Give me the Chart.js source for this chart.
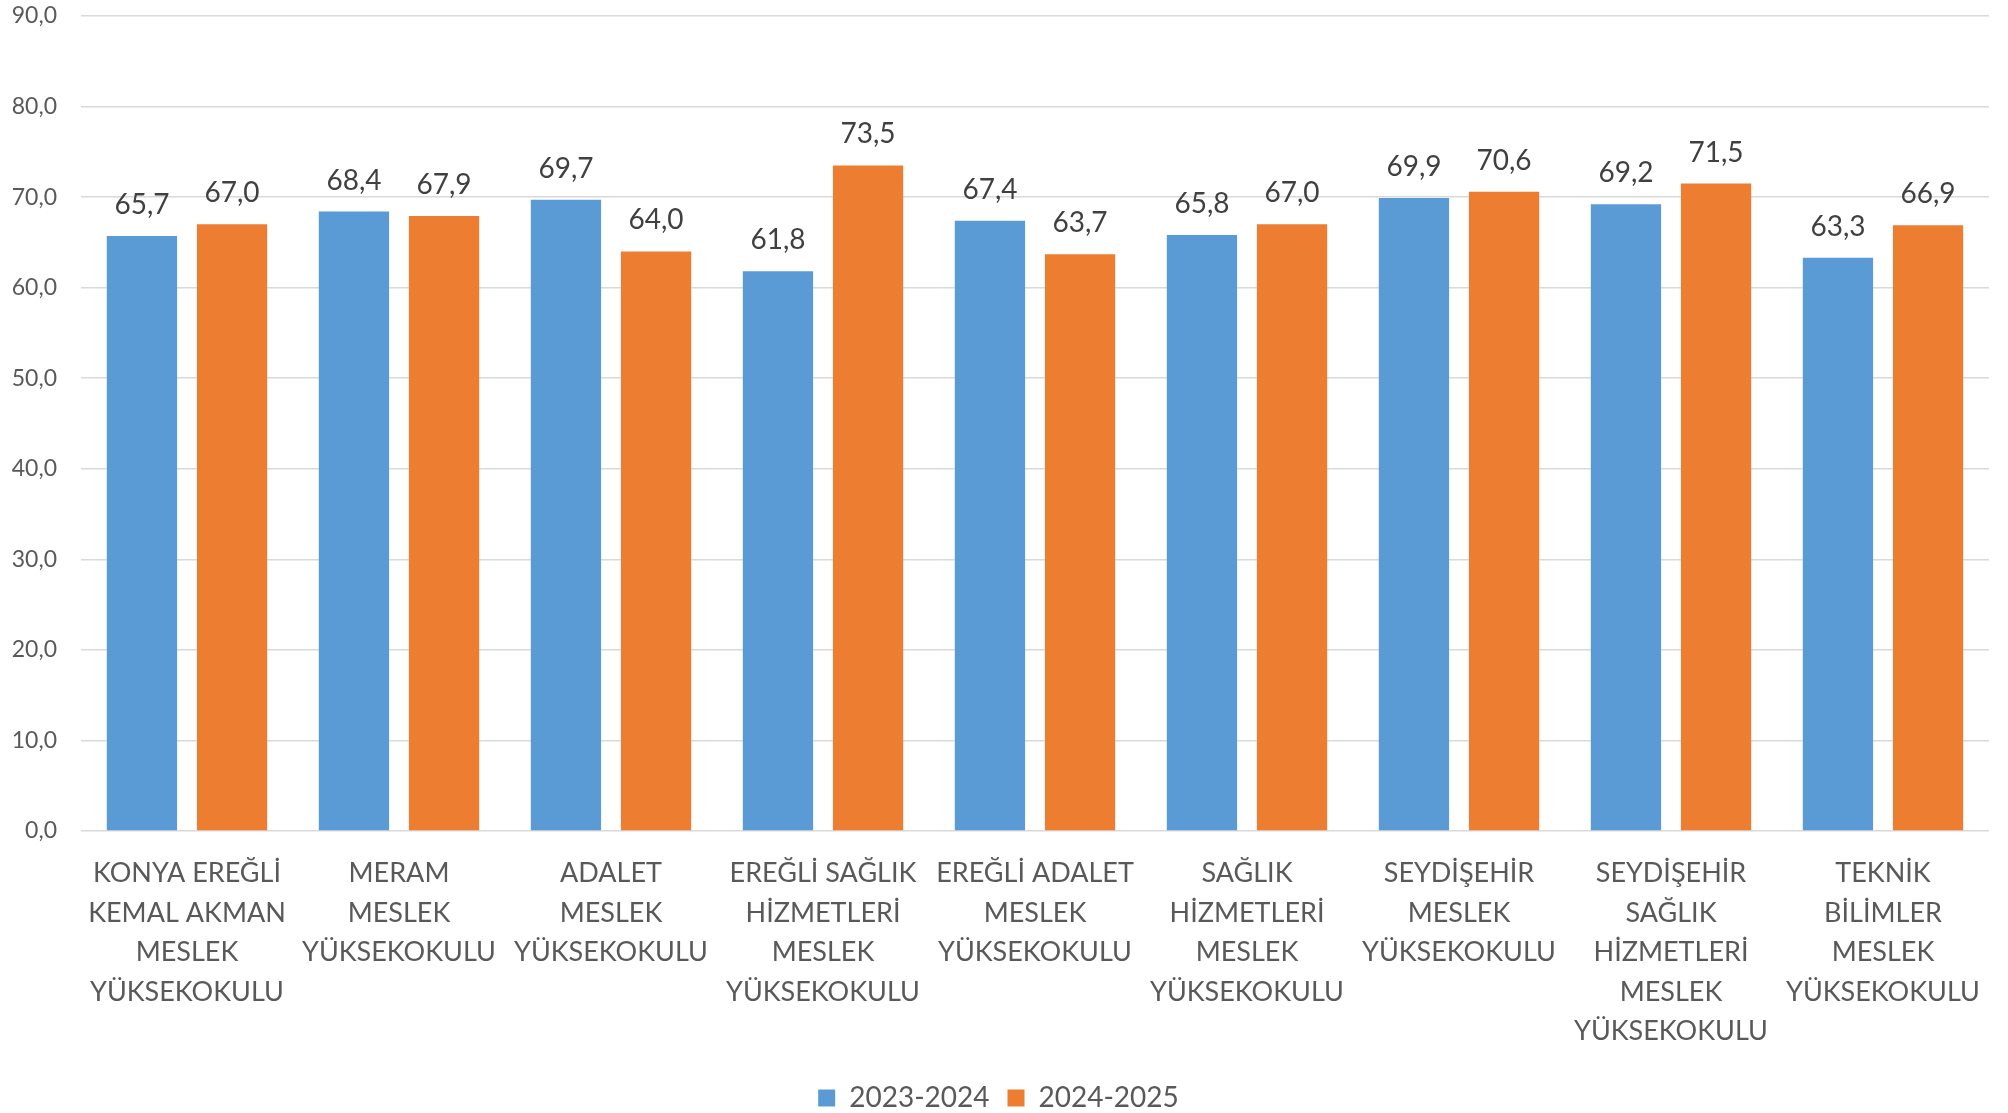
<!DOCTYPE html>
<html>
<head>
<meta charset="utf-8">
<script src="https://cdn.jsdelivr.net/npm/chart.js@4.4.1/dist/chart.umd.min.js"></script>
<style>
  html, body { margin: 0; padding: 0; background: #fff; }
  #kutu { width: 2008px; height: 1113px; }
</style>
</head>
<body>
<div id="kutu"><canvas id="grafico"></canvas></div>
<script>
// okul adlari (x ekseni)
const okullar = [
    ["KONYA EREĞLİ", "KEMAL AKMAN", "MESLEK", "YÜKSEKOKULU"],
    ["MERAM", "MESLEK", "YÜKSEKOKULU"],
    ["ADALET", "MESLEK", "YÜKSEKOKULU"],
    ["EREĞLİ SAĞLIK", "HİZMETLERİ", "MESLEK", "YÜKSEKOKULU"],
    ["EREĞLİ ADALET", "MESLEK", "YÜKSEKOKULU"],
    ["SAĞLIK", "HİZMETLERİ", "MESLEK", "YÜKSEKOKULU"],
    ["SEYDİŞEHİR", "MESLEK", "YÜKSEKOKULU"],
    ["SEYDİŞEHİR", "SAĞLIK", "HİZMETLERİ", "MESLEK", "YÜKSEKOKULU"],
    ["TEKNİK", "BİLİMLER", "MESLEK", "YÜKSEKOKULU"]
]

const donemler = ["2023-2024", "2024-2025"]
const degerler2324 = [65.7, 68.4, 69.7, 61.8, 67.4, 65.8, 69.9, 69.2, 63.3]
const degerler2425 = [67.0, 67.9, 64.0, 73.5, 63.7, 67.0, 70.6, 71.5, 66.9]

const yMin = 0
const yMax = 90
const yAdim = 10

const yazi = "Lato, 'Open Sans', sans-serif"
const virgul = v => v.toFixed(1).replace(".", ",")

// cubuklarin ustune deger yazan kucuk eklenti
const degerYazisi = {
    id: "degerYazisi",
    afterDatasetsDraw(chart) {
        const ctx = chart.ctx
        ctx.save()
        ctx.font = "28px " + yazi
        ctx.fillStyle = "#404040"
        ctx.textAlign = "center"
        ctx.textBaseline = "alphabetic"
        chart.data.datasets.forEach((ds, i) => {
            chart.getDatasetMeta(i).data.forEach((bar, j) => {
                ctx.fillText(virgul(ds.data[j]), bar.x, bar.y - 22)
            })
        })
        ctx.restore()
    }
}

let grafico = document.getElementById("grafico")

let miGrafico = new Chart(grafico, {
    type: "bar",
    data: {
        labels: okullar,
        datasets: [
            {
                label: donemler[0],
                data: degerler2324,
                backgroundColor: "#5B9BD5",
                categoryPercentage: 0.85,
                barPercentage: 0.78
            },
            {
                label: donemler[1],
                data: degerler2425,
                backgroundColor: "#ED7D31",
                categoryPercentage: 0.85,
                barPercentage: 0.78
            }
        ]
    },
    options: {
        responsive: true,
        maintainAspectRatio: false,
        animation: false,
        layout: { padding: { left: 8, right: 19, top: 16, bottom: -9 } },
        plugins: {
            tooltip: { enabled: false },
            legend: {
                position: "bottom",
                labels: {
                    boxWidth: 17,
                    boxHeight: 17,
                    padding: 18,
                    color: "#595959",
                    font: { family: yazi, size: 28 }
                }
            }
        },
        scales: {
            x: {
                grid: { display: false },
                border: { display: false },
                ticks: {
                    color: "#595959",
                    font: { family: yazi, size: 27, lineHeight: 1.46 },
                    maxRotation: 0,
                    autoSkip: false,
                    padding: 15
                }
            },
            y: {
                min: yMin,
                max: yMax,
                border: { display: false },
                grid: { color: "#d9d9d9", lineWidth: 1.5, drawTicks: false },
                ticks: {
                    stepSize: yAdim,
                    color: "#595959",
                    font: { family: yazi, size: 23 },
                    padding: 24,
                    callback: v => virgul(v)
                },
                afterFit: s => {
                    s.width = 73
                    s.paddingTop = 0
                }
            }
        }
    },
    plugins: [degerYazisi]
})
</script>
</body>
</html>
